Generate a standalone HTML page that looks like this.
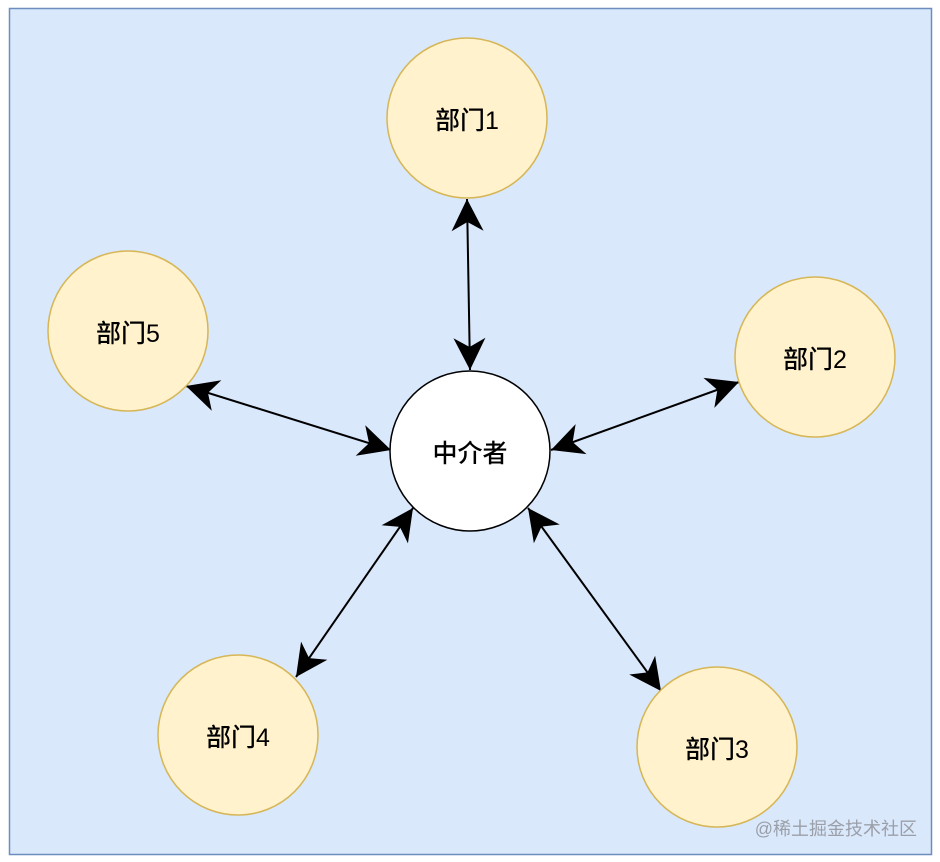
<!DOCTYPE html>
<html><head><meta charset="utf-8"><style>
html,body{margin:0;padding:0;background:#fff;}
svg{display:block}
text{font-family:"Liberation Sans","Noto Sans CJK SC",sans-serif;}
</style></head><body>
<svg width="940" height="862" viewBox="0 0 940 862" xmlns="http://www.w3.org/2000/svg">
<defs>
<marker id="a" markerUnits="userSpaceOnUse" markerWidth="34" markerHeight="34" viewBox="0 0 34 34" refX="33" refY="17" orient="auto-start-reverse">
<path d="M1,1 L33,17 L1,33 L10,17 Z" fill="#000"/>
</marker>
</defs>
<rect x="9.5" y="8.5" width="922" height="846" fill="#dae8fc" stroke="#6c8ebf" stroke-width="1.5"/>
<g stroke="#000" stroke-width="2" marker-start="url(#a)" marker-end="url(#a)">
<line x1="467" y1="199" x2="470" y2="370"/>
<line x1="186" y1="386" x2="391" y2="450"/>
<line x1="739" y1="382" x2="551" y2="450"/>
<line x1="296" y1="677" x2="413" y2="508"/>
<line x1="661" y1="691" x2="528" y2="508"/>
</g>
<g fill="#fff2cc" stroke="#d6b656" stroke-width="1.5">
<circle cx="467" cy="118" r="80"/>
<circle cx="128" cy="331" r="80"/>
<circle cx="815" cy="357" r="80"/>
<circle cx="238" cy="735" r="80"/>
<circle cx="717" cy="747" r="80"/>
</g>
<circle cx="470" cy="451" r="80" fill="#fff" stroke="#000" stroke-width="1.5"/>
<g font-size="25" font-weight="500" text-anchor="middle" fill="#000">
<text x="467" y="129">部门1</text>
<text x="128" y="342">部门5</text>
<text x="815" y="368">部门2</text>
<text x="238" y="746">部门4</text>
<text x="717" y="758">部门3</text>
<text x="470" y="462">中介者</text>
</g>
<text x="917" y="835" font-size="18" text-anchor="end" fill="#9a9fa8">@稀土掘金技术社区</text>
</svg>
</body></html>
